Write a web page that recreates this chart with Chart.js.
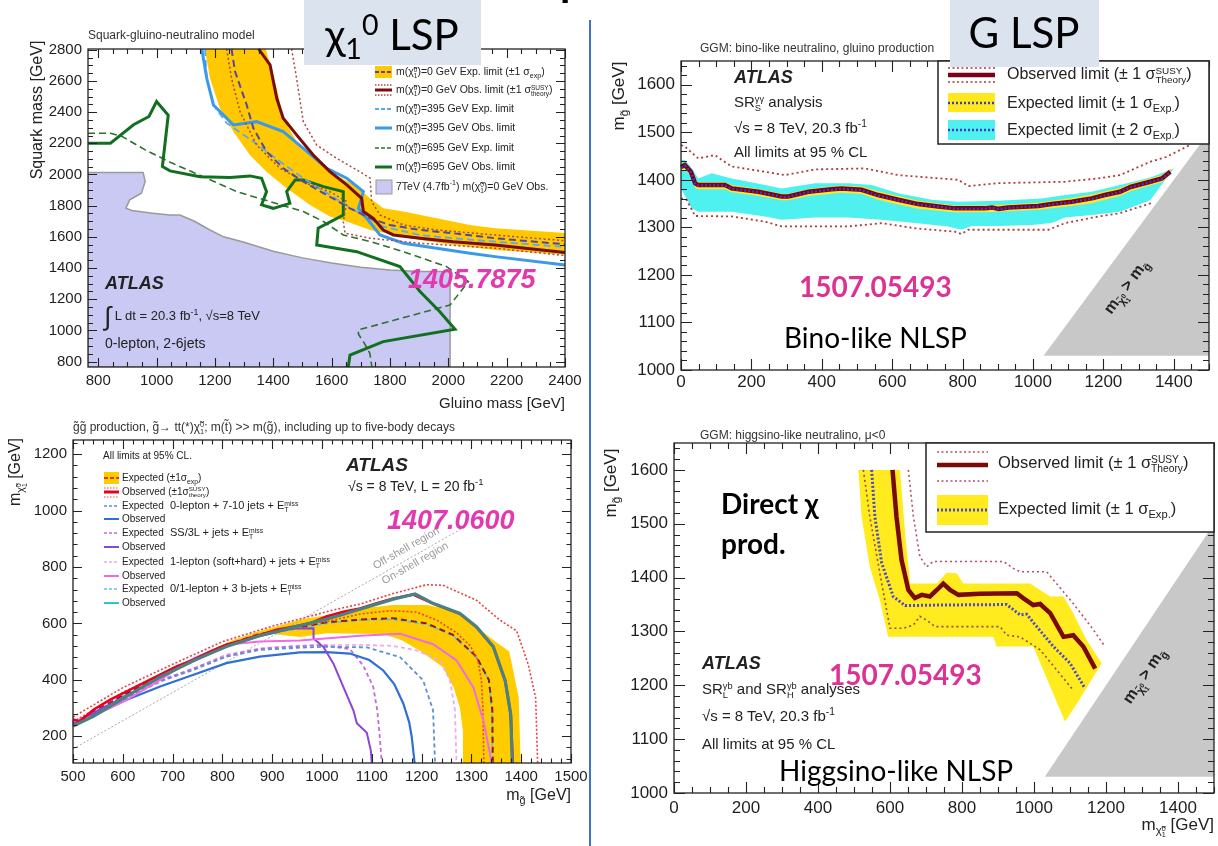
<!DOCTYPE html>
<html>
<head>
<meta charset="utf-8">
<title>SUSY gluino limits</title>
<script src="https://cdn.jsdelivr.net/npm/chart.js@4.4.0/dist/chart.umd.min.js"></script>
<style>
  body { margin: 0; background: #fff; }
  #page { position: relative; width: 1218px; height: 846px; overflow: hidden;
          font-family: 'Liberation Sans', Arial, sans-serif; color: #222; }
  .cw { position: absolute; }
  .t { position: absolute; white-space: nowrap; line-height: 1; }
  .t sub, .t sup { font-size: 68%; line-height: 0; }
  .st { display: inline-block; vertical-align: -0.4em; line-height: 0.9; font-size: 62%; }
  .st span { display: block; }
  .slide { font-family: Lato, 'Open Sans', sans-serif; }
  .box { position: absolute; background: #dbe3ef; }
</style>
</head>
<body>
<div id="page"></div>
<script>
// ---------- squark-gluino grid (0-lepton, 2-6 jets) ----------
const sqTicksX = [800, 1000, 1200, 1400, 1600, 1800, 2000, 2200, 2400];
const sqTicksY = [800, 1000, 1200, 1400, 1600, 1800, 2000, 2200, 2400, 2600, 2800];
const sqRun1Region = [[765,765],[765,2013],[954,2013],[961,1955],[948,1880],[908,1837],[895,1784],[915,1769],[987,1752],[1046,1740],[1080,1740],[1130,1700],[1183,1644],[1230,1600],[1300,1565],[1400,1508],[1500,1465],[1600,1432],[1700,1405],[1800,1388],[1900,1378],[2006,1377],[2006,765]];
const sqExpBandHigh = [[1375,2805],[1389,2703],[1412,2553],[1434,2361],[1480,2211],[1537,2104],[1606,2008],[1686,1922],[1732,1847],[1777,1783],[1846,1762],[1960,1719],[2074,1676],[2160,1655],[2400,1625]];
const sqExpBandLow = [[1166,2805],[1183,2617],[1217,2425],[1263,2275],[1320,2125],[1377,2018],[1446,1912],[1526,1805],[1594,1730],[1652,1698],[1732,1644],[1789,1623],[1903,1580],[2017,1548],[2160,1516],[2400,1485]];
const sqExp0 = [[1257,2805],[1269,2660],[1309,2446],[1332,2296],[1377,2147],[1434,2040],[1503,1954],[1583,1869],[1663,1783],[1732,1719],[1800,1676],[1903,1644],[2017,1623],[2160,1591],[2400,1552]];
const sqObs0 = [[1350,2805],[1389,2703],[1412,2489],[1434,2361],[1480,2254],[1537,2125],[1594,2018],[1652,1933],[1703,1847],[1709,1762],[1743,1719],[1777,1644],[1812,1612],[1903,1591],[2017,1569],[2160,1548],[2400,1500]];
const sqObs0Up = [[1463,2805],[1480,2617],[1503,2339],[1549,2189],[1617,2104],[1697,2018],[1732,1976],[1737,1826],[1766,1740],[1846,1676],[1960,1644],[2160,1612],[2400,1575]];
const sqObs0Down = [[1240,2805],[1257,2617],[1286,2403],[1343,2189],[1423,2040],[1526,1933],[1594,1890],[1652,1826],[1640,1698],[1646,1623],[1732,1591],[1903,1559],[2160,1527],[2400,1480]];
const sqExp395 = [[1166,2805],[1172,2617],[1195,2446],[1240,2329],[1332,2211],[1423,2083],[1503,1976],[1594,1869],[1686,1762],[1777,1666],[1903,1612],[2017,1591],[2160,1569],[2400,1535]];
const sqObs395 = [[1155,2805],[1172,2617],[1195,2446],[1263,2318],[1343,2339],[1434,2275],[1503,2168],[1583,2040],[1652,1976],[1709,1890],[1692,1783],[1720,1719],[1766,1612],[1846,1559],[1960,1527],[2074,1495],[2160,1473],[2400,1420]];
const sqExp695 = [[765,2265],[842,2265],[882,2244],[961,2158],[1053,2073],[1160,1986],[1275,1890],[1389,1826],[1503,1762],[1572,1698],[1640,1612],[1732,1570],[1846,1505],[1994,1409],[2069,1313],[2006,1163],[1692,1003],[1692,975],[1712,918],[1731,853],[1738,765]];
const sqObs695 = [[765,2201],[842,2201],[921,2319],[974,2372],[1000,2468],[1040,2380],[1020,2051],[1046,2023],[1149,1986],[1252,1980],[1320,1991],[1360,1976],[1377,1890],[1360,1805],[1400,1783],[1457,1815],[1446,1890],[1475,1965],[1503,1965],[1572,1922],[1640,1890],[1640,1740],[1554,1655],[1549,1548],[1686,1505],[1834,1409],[1903,1249],[1971,1120],[2023,1007],[1777,928],[1663,842],[1657,765]];

// ---------- GGM bino-like neutralino ----------
const binoTicksX = [0, 200, 400, 600, 800, 1000, 1200, 1400];
const binoTicksY = [1000, 1100, 1200, 1300, 1400, 1500, 1600];
const binoObs = [[0,1427],[11,1431],[28,1417],[40,1393],[49,1389],[125,1389],[144,1382],[220,1375],[286,1365],[305,1365],[362,1375],[428,1380],[456,1382],[513,1379],[560,1368],[617,1358],[674,1349],[731,1344],[778,1340],[864,1340],[883,1342],[902,1339],[930,1342],[1015,1345],[1053,1349],[1110,1354],[1167,1361],[1204,1368],[1247,1375],[1277,1385],[1333,1396],[1366,1403],[1390,1417]];
const binoExp = [[0,1426],[11,1430],[28,1416],[40,1392],[49,1388],[125,1388],[144,1381],[220,1374],[286,1364],[305,1364],[362,1374],[428,1379],[456,1381],[513,1378],[560,1367],[617,1357],[674,1348],[731,1343],[778,1339],[864,1339],[883,1341],[902,1338],[930,1341],[1015,1344],[1053,1348],[1110,1353],[1167,1360],[1204,1367],[1247,1374],[1277,1384],[1333,1395],[1366,1402],[1390,1416]];
const bino1sUp = [[0,1432],[11,1436],[28,1424],[40,1400],[49,1395],[125,1395],[144,1389],[220,1381],[286,1371],[305,1371],[362,1381],[428,1386],[456,1388],[513,1386],[560,1376],[617,1366],[674,1356],[731,1350],[778,1346],[864,1346],[930,1348],[1015,1352],[1053,1356],[1110,1362],[1167,1369],[1204,1376],[1247,1383],[1277,1392],[1333,1403],[1366,1410],[1390,1424]];
const bino1sDown = [[0,1418],[11,1422],[28,1408],[40,1383],[49,1380],[125,1380],[144,1374],[220,1366],[286,1357],[305,1357],[362,1366],[428,1371],[456,1373],[513,1370],[560,1358],[617,1348],[674,1339],[731,1335],[778,1332],[864,1332],[930,1334],[1015,1337],[1053,1340],[1110,1345],[1167,1351],[1204,1358],[1247,1366],[1277,1376],[1333,1388],[1366,1395],[1390,1410]];
const bino2sUp = [[0,1442],[11,1442],[30,1425],[49,1403],[87,1414],[144,1403],[239,1389],[286,1382],[381,1393],[475,1393],[542,1389],[617,1372],[712,1358],[788,1354],[902,1356],[1024,1361],[1091,1368],[1167,1375],[1247,1389],[1333,1405],[1400,1424]];
const bino2sDown = [[0,1382],[30,1340],[49,1333],[144,1333],[239,1323],[286,1316],[381,1321],[475,1321],[570,1316],[665,1309],[759,1302],[797,1295],[826,1303],[902,1303],[996,1305],[1053,1309],[1091,1321],[1167,1326],[1247,1333],[1333,1357],[1394,1418]];
const binoTheoryUp = [[0,1473],[11,1470],[49,1445],[96,1452],[144,1428],[239,1417],[295,1410],[381,1422],[523,1424],[617,1410],[788,1400],[816,1387],[902,1393],[1091,1396],[1186,1403],[1247,1410],[1333,1438],[1378,1448],[1445,1473]];
const binoTheoryDown = [[0,1361],[16,1358],[40,1324],[144,1323],[239,1312],[286,1302],[475,1302],[570,1309],[665,1298],[778,1291],[797,1286],[816,1295],[1044,1295],[1091,1309],[1186,1323],[1247,1330],[1340,1352]];
const binoForbidden = [[1030,1030],[1500,1500],[1500,1030]];

// ---------- gluino -> t t neutralino ----------
const ggTicksX = [500, 600, 700, 800, 900, 1000, 1100, 1200, 1300, 1400, 1500];
const ggTicksY = [200, 400, 600, 800, 1000, 1200];
const ggExpBand = [[770,500],[820,540],[870,570],[920,595],[960,615],[1009,629],[1076,653],[1143,665],[1210,665],[1263,647],[1310,588],[1344,541],[1376,500],[1395,336],[1399,105],[1283,105],[1283,218],[1277,301],[1265,370],[1243,444],[1199,500],[1160,540],[1123,562],[1009,565],[956,552],[900,562],[860,558],[820,535]];
const ggKinLimit = [[500,155],[1280,935]];
const ggObs = [[500,259],[514,253],[541,294],[574,329],[608,359],[641,388],[675,418],[708,447],[742,471],[775,500],[808,524],[842,541],[875,559],[909,577],[942,588],[976,600],[1009,624],[1043,641],[1076,653],[1110,671],[1143,688],[1183,702],[1223,670],[1277,634],[1310,587],[1344,516],[1368,395],[1379,277],[1383,105]];
const ggObsUp = [[500,268],[600,372],[700,455],[800,535],[900,590],[960,618],[1029,650],[1076,668],[1143,706],[1210,737],[1243,735],[1310,682],[1357,612],[1391,573],[1414,455],[1429,336],[1433,105]];
const ggObsDown = [[500,250],[600,355],[700,440],[800,520],[870,560],[942,585],[1009,606],[1076,633],[1137,645],[1190,640],[1230,612],[1270,567],[1298,520],[1313,470],[1320,400],[1323,300],[1324,200],[1325,105]];
const ggExp = [[500,245],[600,345],[700,435],[800,518],[870,560],[942,582],[1009,604],[1090,615],[1143,618],[1210,600],[1263,559],[1310,482],[1335,400],[1342,294],[1343,105]];
const ggExp0L = [[500,244],[608,335],[675,395],[742,435],[808,482],[875,506],[956,514],[1009,517],[1090,515],[1157,480],[1203,398],[1223,292],[1227,105]];
const ggObs0L = [[500,247],[541,276],[608,329],[675,376],[742,418],[808,459],[875,482],[956,497],[1009,498],[1056,493],[1095,470],[1123,433],[1145,385],[1163,317],[1175,250],[1180,200],[1186,105]];
const ggExpSS = [[500,244],[608,338],[675,398],[742,440],[808,485],[875,510],[942,518],[1000,523],[1056,509],[1083,450],[1103,374],[1111,291],[1116,198],[1120,105]];
const ggObsSS = [[500,245],[608,345],[700,430],[800,515],[875,555],[942,582],[983,583],[983,546],[1003,516],[1023,457],[1043,374],[1063,292],[1070,246],[1090,212],[1098,150],[1100,105]];
const ggExp1L = [[500,250],[608,335],[675,392],[742,440],[808,490],[875,510],[942,520],[1009,524],[1076,524],[1143,520],[1190,504],[1237,469],[1257,398],[1267,292],[1270,105]];
const ggObs1L = [[500,253],[541,271],[608,329],[675,400],[742,476],[808,524],[875,536],[956,539],[1076,556],[1157,563],[1223,526],[1270,469],[1304,373],[1324,257],[1341,105]];
const ggExp3b = [[500,240],[600,342],[700,432],[800,515],[870,556],[942,578],[1009,600],[1076,612],[1143,614],[1210,596],[1263,556],[1310,480],[1335,398],[1341,290],[1342,105]];
const ggObs3b = [[500,236],[541,270],[608,342],[675,410],[742,468],[808,518],[875,556],[942,586],[1009,615],[1043,632],[1076,650],[1143,686],[1187,704],[1223,671],[1277,635],[1310,588],[1344,518],[1368,396],[1379,277],[1382,105]];

// ---------- GGM higgsino-like neutralino ----------
const higgsTicksX = [0, 200, 400, 600, 800, 1000, 1200, 1400];
const higgsTicksY = [1000, 1100, 1200, 1300, 1400, 1500, 1600];
const higgsExpBand = [[512,1600],[628,1600],[642,1482],[656,1389],[730,1389],[757,1409],[785,1408],[804,1389],[989,1389],[1045,1365],[1082,1365],[1109,1334],[1146,1284],[1188,1241],[1123,1170],[1086,1133],[998,1272],[896,1272],[887,1290],[595,1290],[572,1358],[544,1420],[521,1513]];
const higgsObs = [[607,1600],[618,1513],[632,1433],[651,1377],[669,1362],[688,1368],[711,1365],[730,1377],[748,1389],[767,1377],[790,1368],[850,1370],[952,1371],[970,1362],[998,1349],[1017,1351],[1045,1334],[1082,1290],[1109,1293],[1137,1272],[1170,1231]];
const higgsExp = [[549,1600],[558,1513],[577,1427],[609,1365],[642,1348],[730,1349],[924,1350],[961,1331],[980,1332],[1000,1315],[1054,1272],[1100,1241],[1142,1194]];
const higgsTheoryUp = [[651,1600],[665,1513],[683,1439],[702,1420],[720,1430],[915,1430],[943,1417],[961,1411],[1035,1411],[1109,1352],[1165,1303],[1197,1272]];
const higgsTheoryDown = [[526,1600],[544,1513],[577,1389],[600,1306],[637,1306],[665,1312],[683,1328],[702,1321],[725,1309],[906,1309],[924,1293],[961,1290],[1017,1266],[1109,1191]];
const higgsForbidden = [[1030,1030],[1500,1500],[1500,1030]];

// ---------- helpers ----------
Chart.defaults.font.family = "'Liberation Sans', Arial, sans-serif";
const page = document.getElementById('page');
const pts = a => a.map(([x, y]) => ({ x, y }));
const closed = (hi, lo) => hi.concat(lo.slice().reverse());

const line = (data, color, width, dash) => ({
  data: pts(data), borderColor: color, borderWidth: width, borderDash: dash || [],
  showLine: true, pointRadius: 0, tension: 0, fill: false, clip: 1
});
const area = (data, color, outline, outlineWidth) => ({
  data: pts(data), polygon: true, backgroundColor: color, outline, outlineWidth,
  showLine: false, pointRadius: 0
});

// filled regions, drawn through the scales from the dataset points
const polyFill = {
  id: 'polyFill',
  beforeDatasetsDraw(chart) {
    const { ctx, chartArea: a } = chart;
    ctx.save();
    ctx.beginPath();
    ctx.rect(a.left, a.top, a.right - a.left, a.bottom - a.top);
    ctx.clip();
    chart.data.datasets.forEach((ds, i) => {
      if (!ds.polygon) return;
      const el = chart.getDatasetMeta(i).data;
      ctx.beginPath();
      el.forEach((p, j) => (j ? ctx.lineTo(p.x, p.y) : ctx.moveTo(p.x, p.y)));
      ctx.closePath();
      ctx.fillStyle = ds.backgroundColor;
      ctx.fill();
      if (ds.outline) {
        ctx.strokeStyle = ds.outline;
        ctx.lineWidth = ds.outlineWidth || 1;
        ctx.stroke();
      }
    });
    ctx.restore();
  }
};

// frame with inward major/minor ticks on all four sides
const rootFrame = {
  id: 'rootFrame',
  afterDatasetsDraw(chart, args, o) {
    const { ctx, chartArea: a, scales: { x, y } } = chart;
    const steps = (s, st) => {
      const out = [];
      for (let v = Math.ceil(s.min / st) * st; v <= s.max + 1e-6; v += st) out.push(v);
      return out;
    };
    ctx.save();
    ctx.strokeStyle = '#222';
    ctx.lineWidth = 1.3;
    ctx.strokeRect(a.left, a.top, a.right - a.left, a.bottom - a.top);
    ctx.beginPath();
    ctx.lineWidth = 1.1;
    steps(x, o.minorX).forEach(v => {
      const p = Math.round(x.getPixelForValue(v)) + 0.5;
      const L = o.majorX.includes(v) ? o.majorLen : o.minorLen;
      ctx.moveTo(p, a.bottom); ctx.lineTo(p, a.bottom - L);
      ctx.moveTo(p, a.top); ctx.lineTo(p, a.top + L);
    });
    steps(y, o.minorY).forEach(v => {
      const p = Math.round(y.getPixelForValue(v)) + 0.5;
      const L = o.majorY.includes(v) ? o.majorLen : o.minorLen;
      ctx.moveTo(a.left, p); ctx.lineTo(a.left + L, p);
      ctx.moveTo(a.right, p); ctx.lineTo(a.right - L, p);
    });
    ctx.stroke();
    ctx.restore();
  }
};

const PADL = 62, PADT = 6, PADR = 24, PADB = 32;
function makeChart(frame, xr, yr, xt, yt, datasets, fontSize, xPad, frameOpts) {
  // later datasets are painted on top of earlier ones
  datasets.forEach((ds, i) => { ds.order = -i; });
  const W = frame.r - frame.l + PADL + PADR;
  const H = frame.b - frame.t + PADT + PADB;
  const wrap = document.createElement('div');
  wrap.className = 'cw';
  wrap.style.left = (frame.l - PADL) + 'px';
  wrap.style.top = (frame.t - PADT) + 'px';
  wrap.style.width = W + 'px';
  wrap.style.height = H + 'px';
  const cv = document.createElement('canvas');
  cv.width = W; cv.height = H;
  cv.style.width = W + 'px'; cv.style.height = H + 'px';
  wrap.appendChild(cv);
  page.appendChild(wrap);
  const tickFont = { size: fontSize };
  return new Chart(cv, {
    type: 'scatter',
    data: { datasets },
    plugins: [polyFill, rootFrame],
    options: {
      responsive: false, animation: false, events: [],
      layout: { padding: { left: 0, top: PADT, right: PADR, bottom: 0 } },
      plugins: {
        legend: { display: false }, tooltip: { enabled: false },
        rootFrame: Object.assign({ majorX: xt, majorY: yt }, frameOpts)
      },
      scales: {
        x: {
          type: 'linear', min: xr[0], max: xr[1],
          grid: { display: false, drawTicks: false }, border: { display: false },
          afterBuildTicks: s => { s.ticks = xt.map(v => ({ value: v })); },
          afterFit: s => { s.height = PADB; s.paddingLeft = 0; s.paddingRight = 0; },
          ticks: { padding: xPad, maxRotation: 0, minRotation: 0, autoSkip: false, color: '#1e1e1e',
                   font: tickFont, callback: v => String(v) }
        },
        y: {
          type: 'linear', min: yr[0], max: yr[1],
          grid: { display: false, drawTicks: false }, border: { display: false },
          afterBuildTicks: s => { s.ticks = yt.map(v => ({ value: v })); },
          afterFit: s => { s.width = PADL; s.paddingTop = 0; s.paddingBottom = 0; },
          ticks: { padding: 6, autoSkip: false, color: '#1e1e1e', font: tickFont,
                   callback: v => String(v) }
        }
      }
    }
  });
}

// ---------- the four panels ----------
makeChart({ l: 88, t: 49, r: 565, b: 367 }, [765, 2400], [765, 2805], sqTicksX, sqTicksY, [
  area(sqRun1Region, '#c9c9f3', '#9a9a9a', 1.5),
  area(closed(sqExpBandHigh, sqExpBandLow), '#ffc800'),
  line(sqExp695, '#2f6f2f', 1.6, [7, 4]),
  line(sqObs695, '#107020', 3),
  line(sqExp395, '#5aaaf0', 1.8, [7, 4]),
  line(sqObs395, '#3a9ae8', 3),
  line(sqObs0Up, '#a84848', 1.5, [2, 2.5]),
  line(sqObs0Down, '#a84848', 1.5, [2, 2.5]),
  line(sqExp0, '#55489c', 2, [7, 4]),
  line(sqObs0, '#7a0c0c', 3)
], 15, 5, { minorX: 50, minorY: 50, majorLen: 9, minorLen: 5 });

makeChart({ l: 681, t: 61, r: 1209, b: 370 }, [0, 1500], [1000, 1650], binoTicksX, binoTicksY, [
  area(binoForbidden, '#c8c8c8'),
  area(closed(bino2sUp, bino2sDown), '#4ff0f0'),
  area(closed(bino1sUp, bino1sDown), '#ffe81e'),
  line(binoTheoryUp, '#b03a3a', 1.8, [2, 3]),
  line(binoTheoryDown, '#b03a3a', 1.8, [2, 3]),
  line(binoObs, '#7c0018', 4.5),
  line(binoExp, '#3c3cc4', 2.4, [2, 2])
], 17, 2, { minorX: 50, minorY: 20, majorLen: 11, minorLen: 6 });

makeChart({ l: 73, t: 440, r: 571, b: 763 }, [500, 1500], [105, 1250], ggTicksX, ggTicksY, [
  area(ggExpBand, '#ffcc00'),
  line(ggKinLimit, '#a8a8a8', 1, [2, 2]),
  line(ggExp1L, '#f0a8f0', 1.8, [4, 3]),
  line(ggExpSS, '#c46ad6', 1.8, [4, 3]),
  line(ggExp0L, '#5b8fd6', 1.8, [4, 3]),
  line(ggExp3b, '#5cc8e0', 1.8, [4, 3]),
  line(ggExp, '#8b1a1a', 2, [6, 4]),
  line(ggObsUp, '#e84040', 1.6, [2, 2]),
  line(ggObsDown, '#e84040', 1.6, [2, 2]),
  line(ggObs0L, '#2f6fd6', 2.2),
  line(ggObsSS, '#8b45d8', 2),
  line(ggObs1L, '#f06ae8', 2),
  line(ggObs, '#e8001c', 2.6),
  line(ggObs3b, '#4a8282', 3.2)
], 15, 5, { minorX: 20, minorY: 40, majorLen: 9, minorLen: 4.5 });

makeChart({ l: 674, t: 443, r: 1214, b: 793 }, [0, 1500], [1000, 1650], higgsTicksX, higgsTicksY, [
  area(higgsForbidden, '#c8c8c8'),
  area(higgsExpBand, '#ffeb1e'),
  line(higgsTheoryUp, '#b85060', 1.6, [2, 3]),
  line(higgsTheoryDown, '#9a4a3a', 1.6, [2, 3]),
  line(higgsObs, '#7a0a0a', 4.5),
  line(higgsExp, '#4a4ac8', 3, [2, 2])
], 17, 5, { minorX: 50, minorY: 20, majorLen: 11, minorLen: 6 });

// ---------- legend boxes and swatches ----------
const svgNS = 'http://www.w3.org/2000/svg';
const svg = document.createElementNS(svgNS, 'svg');
svg.setAttribute('width', 1218); svg.setAttribute('height', 846);
svg.style.cssText = 'position:absolute;left:0;top:0';
page.appendChild(svg);
function sv(tag, attrs) {
  const e = document.createElementNS(svgNS, tag);
  for (const k in attrs) e.setAttribute(k, attrs[k]);
  svg.appendChild(e);
}
const sl = (x1, y1, x2, y2, c, w, dash) => sv('line', { x1, y1, x2, y2, stroke: c, 'stroke-width': w, 'stroke-dasharray': dash || 'none' });
const sr = (x, y, w, h, fill, stroke, sw) => sv('rect', { x, y, width: w, height: h, fill, stroke: stroke || 'none', 'stroke-width': sw || 0 });

// squark-gluino legend
sr(375, 66, 17, 12, '#ffc800'); sl(375, 72, 392, 72, '#55489c', 2, '4 2');
sl(375, 85, 392, 85, '#a84848', 1.3, '1.5 1.5'); sl(375, 90, 392, 90, '#7a0c0c', 3); sl(375, 95, 392, 95, '#a84848', 1.3, '1.5 1.5');
sl(375, 109, 392, 109, '#5aaaf0', 1.8, '4 2');
sl(375, 128, 392, 128, '#3a9ae8', 3);
sl(375, 148, 392, 148, '#2f6f2f', 1.6, '4 2');
sl(375, 167, 392, 167, '#107020', 3);
sr(376, 180, 16, 14, '#c9c9f3', '#9a9a9a', 1);

// bino legend
sr(938, 61, 271, 83, '#fff', '#222', 1.5);
sl(948, 68, 995, 68, '#b03a3a', 1.6, '2 2.5'); sl(948, 75, 995, 75, '#7c0018', 4.5); sl(948, 82, 995, 82, '#b03a3a', 1.6, '2 2.5');
sr(948, 93, 47, 19, '#ffe81e'); sl(948, 103, 995, 103, '#3c3cc4', 2.4, '2 2');
sr(948, 120, 47, 20, '#4ff0f0'); sl(948, 130, 995, 130, '#3c3cc4', 2.4, '2 2');

// higgsino legend
sr(926, 443, 288, 89, '#fff', '#222', 1.5);
sl(937, 452, 988, 452, '#b85060', 1.6, '2 2.5'); sl(937, 465, 988, 465, '#7a0a0a', 4.5); sl(937, 481, 988, 481, '#b85060', 1.6, '2 2.5');
sr(937, 495, 51, 30, '#ffeb1e'); sl(937, 510, 988, 510, '#4a4ac8', 3, '2 2');

// gluino -> tt legend
const ggRows = [478, 492, 506, 519, 533, 547, 562, 576, 589, 603];
sr(104, 472, 15, 12, '#ffcc00'); sl(104, 478, 119, 478, '#d83a1a', 2, '4 2');
sl(104, 488, 119, 488, '#e84040', 1.2, '1.5 1.5'); sl(104, 492, 119, 492, '#e8001c', 3); sl(104, 497, 119, 497, '#e84040', 1.2, '1.5 1.5');
const ggSwatch = [['#5b8fd6', '3 2'], ['#2f6fd6'], ['#c46ad6', '3 2'], ['#8b45d8'], ['#f0a8f0', '3 2'], ['#f06ae8'], ['#5cc8e0', '3 2'], ['#2cc8c8']];
ggSwatch.forEach(([c, d], i) => sl(104, ggRows[i + 2], 119, ggRows[i + 2], c, d ? 1.5 : 2, d));

// ---------- text ----------
function T(x, y, html, size, o = {}) {
  const d = document.createElement('div');
  d.className = 't' + (o.cls ? ' ' + o.cls : '');
  d.innerHTML = html;
  d.style.left = x + 'px';
  d.style.top = y + 'px';
  d.style.fontSize = size + 'px';
  let tr = 'translateY(-50%)';
  if (o.align === 'right') tr = 'translate(-100%,-50%)';
  if (o.align === 'center') tr = 'translate(-50%,-50%)';
  if (o.rot) tr += ' rotate(' + o.rot + 'deg)';
  d.style.transform = tr;
  if (o.css) d.style.cssText += o.css;
  page.appendChild(d);
  return d;
}
const st = (u, d) => `<span class="st"><span>${u}</span><span>${d}</span></span>`;
const chi = 'χ&#771;' + st('0', '1');
const atlas = 'font-weight:bold;font-style:italic;';

// squark-gluino panel
T(88, 35, 'Squark-gluino-neutralino model', 12, { css: 'color:#333' });
T(37, 110, 'Squark mass [GeV]', 16, { align: 'center', rot: -90 });
T(565, 402, 'Gluino mass [GeV]', 15, { align: 'right' });
const sqLegend = [
  `m(${chi})=0 GeV Exp. limit (±1 σ<sub>exp</sub>)`,
  `m(${chi})=0 GeV Obs. limit (±1 σ${st('SUSY', 'theory')})`,
  `m(${chi})=395 GeV Exp. limit`,
  `m(${chi})=395 GeV Obs. limit`,
  `m(${chi})=695 GeV Exp. limit`,
  `m(${chi})=695 GeV Obs. limit`,
  `7TeV (4.7fb<sup>-1</sup>) m(${chi})=0 GeV Obs.`
];
[72, 90, 109, 128, 148, 167, 187].forEach((y, i) => T(396, y, sqLegend[i], 10.5));
T(105, 283, 'ATLAS', 18, { css: atlas });
T(104, 316, '<span style="font-size:26px;vertical-align:-5px">∫</span> L dt = 20.3 fb<sup>-1</sup>, √s=8 TeV', 13);
T(105, 343, '0-lepton, 2-6jets', 14);

// bino panel
T(700, 48, 'GGM: bino-like neutralino, gluino production', 12, { css: 'color:#333' });
T(618, 96, 'm<sub>g&#771;</sub> [GeV]', 17, { align: 'center', rot: -90 });
T(734, 77, 'ATLAS', 18, { css: atlas });
T(734, 103, 'SR' + st('γγ', 'S') + ' analysis', 15);
T(734, 127, '√s = 8 TeV, 20.3 fb<sup>-1</sup>', 15);
T(734, 151, 'All limits at 95 % CL', 15);
T(1007, 75, 'Observed limit (± 1 σ' + st('SUSY', 'Theory') + ')', 16);
T(1007, 103, 'Expected limit (± 1 σ<sub>Exp.</sub>)', 16);
T(1007, 130, 'Expected limit (± 2 σ<sub>Exp.</sub>)', 16);
T(1128, 288, 'm<sub>' + chi + '</sub> &gt; m<sub>g&#771;</sub>', 16, { align: 'center', rot: -53.5, css: 'font-weight:bold' });

// gluino -> tt panel
T(73, 428, 'g&#771;g&#771; production, g&#771;→ tt(*)' + chi + '; m(t&#771;) &gt;&gt; m(g&#771;), including up to five-body decays', 12, { css: 'color:#333' });
T(17, 472, 'm<sub>' + chi + '</sub> [GeV]', 16, { align: 'center', rot: -90 });
T(571, 795, 'm<sub>g&#771;</sub> [GeV]', 16, { align: 'right' });
T(103, 456, 'All limits at 95% CL.', 10);
T(122, 478, 'Expected (±1σ<sub>exp</sub>)', 10);
T(122, 492, 'Observed (±1σ' + st('SUSY', 'theory') + ')', 10);
const ggNames = ['0-lepton + 7-10 jets + E', 'SS/3L + jets + E', '1-lepton (soft+hard) + jets + E', '0/1-lepton + 3 b-jets + E'];
ggNames.forEach((n, i) => {
  T(122, ggRows[2 + 2 * i], 'Expected', 10);
  T(122, ggRows[3 + 2 * i], 'Observed', 10);
  T(170, ggRows[2 + 2 * i], n + st('miss', 'T'), 11);
});
T(346, 464, 'ATLAS', 19, { css: atlas });
T(348, 486, '√s = 8 TeV, L = 20 fb<sup>-1</sup>', 14);
T(406, 548, 'Off-shell region', 11, { align: 'center', rot: -29.6, css: 'color:#9a9a9a' });
T(415, 563, 'On-shell region', 11, { align: 'center', rot: -29.6, css: 'color:#9a9a9a' });

// higgsino panel
T(700, 435, 'GGM: higgsino-like neutralino, μ&lt;0', 12, { css: 'color:#333' });
T(610, 483, 'm<sub>g&#771;</sub> [GeV]', 17, { align: 'center', rot: -90 });
T(1214, 827, 'm<sub>' + chi + '</sub> [GeV]', 17, { align: 'right' });
T(702, 663, 'ATLAS', 18, { css: atlas });
T(702, 690, 'SR' + st('γb', 'L') + ' and SR' + st('γb', 'H') + ' analyses', 15);
T(702, 715, '√s = 8 TeV, 20.3 fb<sup>-1</sup>', 15);
T(702, 743, 'All limits at 95 % CL', 15);
T(998, 464, 'Observed limit (± 1 σ' + st('SUSY', 'Theory') + ')', 16.5);
T(998, 508, 'Expected limit (± 1 σ<sub>Exp.</sub>)', 16.5);
T(1146, 677, 'm<sub>' + chi + '</sub> &gt; m<sub>g&#771;</sub>', 16, { align: 'center', rot: -56, css: 'font-weight:bold' });

// ---------- slide layer ----------
const divider = document.createElement('div');
divider.style.cssText = 'position:absolute;left:589px;top:20px;width:2px;height:826px;background:#3f72c6';
page.appendChild(divider);
function box(x, y, w, h) {
  const b = document.createElement('div');
  b.className = 'box';
  b.style.cssText += `left:${x}px;top:${y}px;width:${w}px;height:${h}px`;
  page.appendChild(b);
}
box(304, 0, 177, 65);
box(950, 0, 149, 67);
T(392, 34, 'χ<sub>1</sub><sup>0</sup> LSP', 42, { align: 'center', cls: 'slide', css: 'color:#000' });
T(1024, 32, 'G LSP', 42, { align: 'center', cls: 'slide', css: 'color:#000' });
// descender of the slide heading running off the top edge
const tail = document.createElement('div');
tail.className = 't slide';
tail.textContent = 'p';
tail.style.cssText += 'left:560px;top:-41px;font-size:42px;font-weight:bold;color:#000';
page.appendChild(tail);

const pinkItalic = 'color:#e23aae;font-weight:bold;font-style:italic;';
T(408, 279, '1405.7875', 27, { css: pinkItalic });
T(387, 520, '1407.0600', 27, { css: pinkItalic });
T(799, 286, '1507.05493', 28, { cls: 'slide', css: 'color:#dc3296;font-weight:bold' });
T(829, 674, '1507.05493', 28, { cls: 'slide', css: 'color:#dc3296;font-weight:bold' });
T(784, 337, 'Bino-like NLSP', 28, { cls: 'slide', css: 'color:#000' });
T(779, 770, 'Higgsino-like NLSP', 28, { cls: 'slide', css: 'color:#000' });
T(721, 503, 'Direct χ', 28, { cls: 'slide', css: 'color:#000;font-weight:bold' });
T(721, 543, 'prod.', 28, { cls: 'slide', css: 'color:#000;font-weight:bold' });
</script>
</body>
</html>
